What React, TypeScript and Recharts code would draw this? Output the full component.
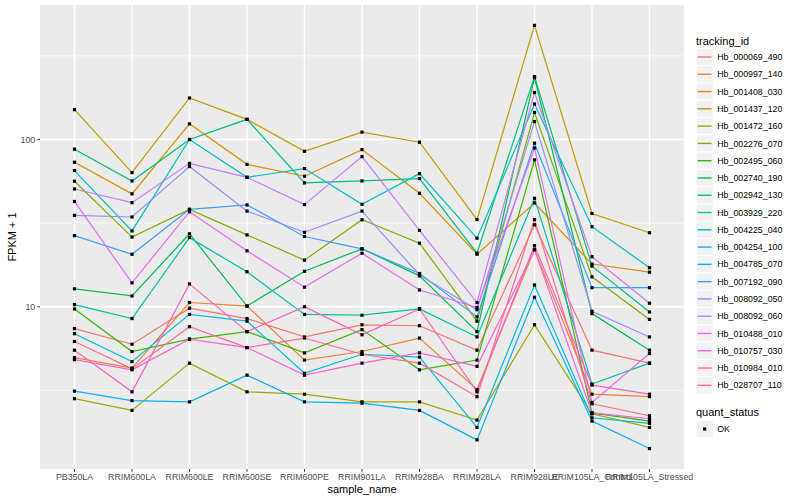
import React from 'react';
import { LineChart, Line, XAxis, YAxis, CartesianGrid, Customized } from 'recharts';

const categories = [
  'PB350LA', 'RRIM600LA', 'RRIM600LE', 'RRIM600SE', 'RRIM600PE', 'RRIM901LA',
  'RRIM928BA', 'RRIM928LA', 'RRIM928LE', 'RRIM105LA_Control', 'RRIM105LA_Stressed',
];

const trackingIds = [
  'Hb_000069_490', 'Hb_000997_140', 'Hb_001408_030', 'Hb_001437_120', 'Hb_001472_160',
  'Hb_002276_070', 'Hb_002495_060', 'Hb_002740_190', 'Hb_002942_130', 'Hb_003929_220',
  'Hb_004225_040', 'Hb_004254_100', 'Hb_004785_070', 'Hb_007192_090', 'Hb_008092_050',
  'Hb_008092_060', 'Hb_010488_010', 'Hb_010757_030', 'Hb_010984_010', 'Hb_028707_110',
];

const colors = [
  '#F8766D', '#EA8331', '#D89000', '#C09B00', '#A3A500', '#7CAE00', '#39B600', '#00BB4E',
  '#00BF7D', '#00C1A3', '#00BFC4', '#00BAE0', '#00B0F6', '#35A2FF', '#9590FF', '#C77CFF',
  '#E76BF3', '#FA62DB', '#FF62BC', '#FF6C91',
];

// FPKM + 1 values, one array per tracking_id, in category order
const hb_000069_490 = [7.4, 5.97, 9.8, 8.5, 6.6, 7.8, 7.7, 5.5, 30.9, 5.5, 4.6];
const hb_000997_140 = [4.97, 4.3, 10.6, 10.1, 4.8, 5.4, 6.5, 3.2, 22, 3.0, 2.9];
const hb_001408_030 = [73.1, 47.3, 124, 71, 60.3, 87, 47.7, 20.6, 41.7, 18.0, 16.1];
const hb_001437_120 = [150.7, 63.4, 177, 132, 85, 110.6, 96.3, 33.2, 481, 36.1, 27.7];
const hb_001472_160 = [2.82, 2.4, 4.6, 3.1, 3.0, 2.7, 2.7, 2.1, 7.8, 2.29, 1.9];
const hb_002276_070 = [56.3, 26.1, 38.2, 26.9, 19.0, 33.1, 24.0, 8.2, 145, 15.1, 8.4];
const hb_002495_060 = [9.7, 5.4, 6.4, 7.1, 5.3, 7.3, 4.2, 4.8, 75.5, 2.32, 2.07];
const hb_002740_190 = [12.8, 11.6, 27.3, 10.1, 16.3, 22.2, 15.3, 7.1, 234, 9.1, 5.5];
const hb_002942_130 = [87.5, 56.5, 100, 132, 55, 56.5, 58.4, 20.9, 238, 17.5, 9.3];
const hb_003929_220 = [10.3, 8.5, 25.9, 16.2, 9.0, 8.9, 9.7, 6.6, 44.5, 3.45, 4.6];
const hb_004225_040 = [65.2, 28.4, 100, 59.4, 67, 41, 62.5, 25.7, 163, 30.1, 17.1];
const hb_004254_100 = [6.9, 4.7, 9.0, 8.2, 4.0, 5.2, 5.0, 1.9, 13.5, 2.17, 2.01];
const hb_004785_070 = [3.13, 2.75, 2.7, 3.9, 2.7, 2.65, 2.4, 1.6, 11.4, 2.07, 1.42];
const hb_007192_090 = [26.6, 20.6, 38.2, 40.6, 26.3, 22.2, 15.8, 8.7, 95, 13.0, 13.0];
const hb_008092_050 = [35.2, 34.4, 68.9, 37.3, 27.9, 37.3, 15.5, 9.6, 128, 9.4, 6.6];
const hb_008092_060 = [50.6, 41.9, 72, 59.4, 40.8, 79, 28.6, 10.6, 191, 19.9, 10.5];
const hb_010488_010 = [42.6, 13.9, 37, 21.6, 13.1, 20.9, 12.6, 9.9, 89, 2.68, 5.25];
const hb_010757_030 = [4.83, 4.2, 6.4, 5.7, 3.9, 4.6, 5.3, 4.4, 21.9, 2.32, 2.14];
const hb_010984_010 = [5.5, 3.1, 13.7, 7.1, 10.0, 6.8, 9.7, 3.1, 23.2, 3.4, 3.0];
const hb_028707_110 = [6.2, 4.25, 7.6, 5.7, 6.5, 5.2, 4.6, 2.9, 33.2, 2.63, 2.23];

const seriesValues = [
  hb_000069_490, hb_000997_140, hb_001408_030, hb_001437_120, hb_001472_160,
  hb_002276_070, hb_002495_060, hb_002740_190, hb_002942_130, hb_003929_220,
  hb_004225_040, hb_004254_100, hb_004785_070, hb_007192_090, hb_008092_050,
  hb_008092_060, hb_010488_010, hb_010757_030, hb_010984_010, hb_028707_110,
];

const yTickValues = [10, 100];
const yMinorValues = [10 ** 0.5, 10 ** 1.5, 10 ** 2.5];

const FONT = '"Liberation Sans", Arial, Helvetica, sans-serif';

const table = categories.map((c, i) => {
  const row: Record<string, number | string> = { x: i, name: c };
  seriesValues.forEach((vals, s) => {
    row['s' + s] = Math.log10(vals[i]);
  });
  return row;
});

const SquareDot = (props: any) => {
  const { cx, cy } = props;
  if (cx == null || cy == null || isNaN(cx) || isNaN(cy)) return null;
  return <rect x={cx - 1.6} y={cy - 1.6} width={3.2} height={3.2} fill="#000000" />;
};

const KEY = 17.28;
const LEG_X = 696;

const LegendBlock = () => {
  const top = 57;
  return (
    <g fontFamily={FONT}>
      <text x={LEG_X} y={44.5} fontSize={11} fill="#000">tracking_id</text>
      {trackingIds.map((id, i) => {
        const cy = top + i * KEY;
        return (
          <g key={id}>
            <rect x={LEG_X} y={cy - KEY / 2} width={KEY} height={KEY} fill="#F2F2F2" stroke="#FFFFFF" strokeWidth={1} />
            <line x1={LEG_X + 1.7} x2={LEG_X + KEY - 1.7} y1={cy} y2={cy} stroke={colors[i]} strokeWidth={1.4} />
            <text x={LEG_X + KEY + 4} y={cy + 3.1} fontSize={8.8} fill="#000">{id}</text>
          </g>
        );
      })}
      <text x={LEG_X} y={416} fontSize={11} fill="#000">quant_status</text>
      <rect x={LEG_X} y={429 - KEY / 2} width={KEY} height={KEY} fill="#F2F2F2" stroke="#FFFFFF" strokeWidth={1} />
      <rect x={LEG_X + KEY / 2 - 1.6} y={429 - 1.6} width={3.2} height={3.2} fill="#000" />
      <text x={LEG_X + KEY + 4} y={432.1} fontSize={8.8} fill="#000">OK</text>
      <text x={362} y={493} fontSize={11} fill="#000" textAnchor="middle">sample_name</text>
      <text x={12} y={237} fontSize={11} fill="#000" textAnchor="middle" dominantBaseline="central" transform="rotate(-90 12 237)">FPKM + 1</text>
    </g>
  );
};

export default function App() {
  return (
    <div style={{ position: 'absolute', left: 0, top: 0, width: 800, height: 500, background: '#FFFFFF' }}>
      <LineChart width={800} height={500} data={table} margin={{ top: 5, right: 116, bottom: 0, left: 0 }}>
        <CartesianGrid
          fill="#EBEBEB"
          stroke="#FFFFFF"
          strokeWidth={0.7}
          vertical={false}
          horizontalValues={yMinorValues.map((v) => Math.log10(v))}
        />
        <CartesianGrid
          stroke="#FFFFFF"
          strokeWidth={1.4}
          horizontalValues={yTickValues.map((v) => Math.log10(v))}
          verticalValues={categories.map((_, i) => i)}
        />
        <XAxis
          dataKey="x"
          type="number"
          domain={[-0.6, categories.length - 1 + 0.6]}
          ticks={categories.map((_, i) => i)}
          tickFormatter={(v: number) => categories[v] ?? ''}
          interval={0}
          height={31}
          axisLine={false}
          tickLine={{ stroke: '#333333' }}
          tickSize={2.75}
          tick={{ fill: '#4D4D4D', fontSize: 8.8, fontFamily: FONT }}
          allowDataOverflow
        />
        <YAxis
          type="number"
          domain={[0.03, 2.804]}
          ticks={yTickValues.map((v) => Math.log10(v))}
          tickFormatter={(v: number) => String(Math.round(10 ** v))}
          width={40}
          axisLine={false}
          tickLine={{ stroke: '#333333' }}
          tickSize={2.75}
          tick={{ fill: '#4D4D4D', fontSize: 8.8, fontFamily: FONT }}
          allowDataOverflow
        />
        {trackingIds.map((id, s) => (
          <Line
            key={id}
            type="linear"
            dataKey={'s' + s}
            stroke={colors[s]}
            strokeWidth={1.2}
            dot={false}
            activeDot={false}
            isAnimationActive={false}
          />
        ))}
        {trackingIds.map((id, s) => (
          <Line
            key={id + '_pt'}
            type="linear"
            dataKey={'s' + s}
            stroke="none"
            dot={<SquareDot />}
            activeDot={false}
            legendType="none"
            isAnimationActive={false}
          />
        ))}
        <Customized component={LegendBlock} />
      </LineChart>
    </div>
  );
}
